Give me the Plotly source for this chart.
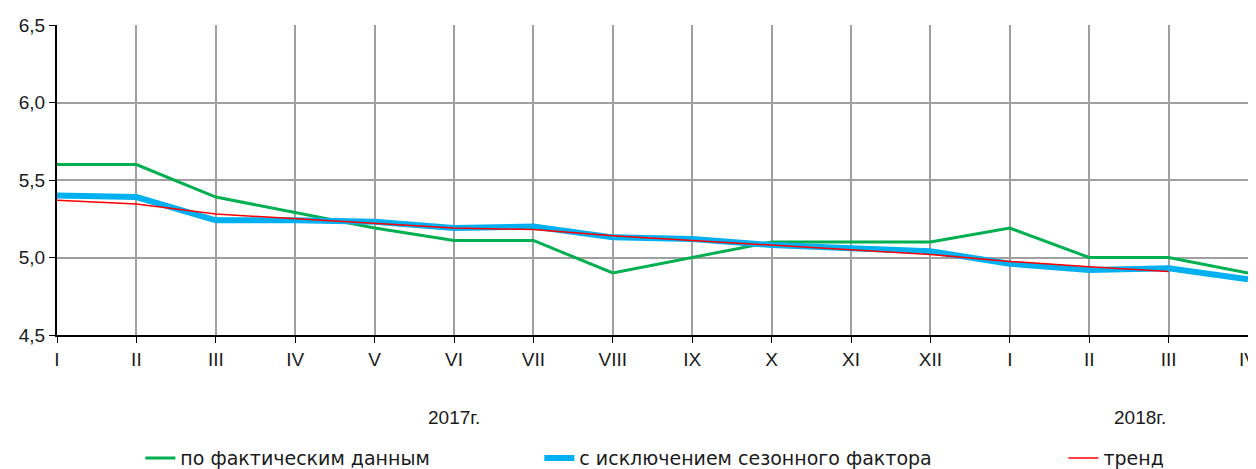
import plotly.graph_objects as go

months = ["I", "II", "III", "IV", "V", "VI", "VII", "VIII", "IX", "X", "XI", "XII", "I", "II", "III", "IV"]
actual = [5.6, 5.6, 5.39, 5.29, 5.19, 5.11, 5.11, 4.9, 5.0, 5.1, 5.1, 5.1, 5.19, 5.0, 5.0, 4.9]
seasonal = [5.40, 5.39, 5.24, 5.24, 5.23, 5.19, 5.20, 5.13, 5.12, 5.08, 5.06, 5.04, 4.96, 4.92, 4.93, 4.86]
trend = [5.37, 5.345, 5.28, 5.25, 5.22, 5.19, 5.18, 5.14, 5.11, 5.08, 5.05, 5.02, 4.975, 4.94, 4.91]
year_labels = ["2017г.", "2018г."]
year_pos = [5, 13.64]
names = ["по фактическим данным", "с исключением сезонного фактора", "тренд"]

xs = list(range(len(months)))
FONT = "Liberation Sans"
TXT = "#1a1a1a"

fig = go.Figure()
fig.add_trace(go.Scatter(x=xs, y=actual, mode="lines", name=names[0],
                         line=dict(color="#00B050", width=3), legend="legend"))
fig.add_trace(go.Scatter(x=xs, y=seasonal, mode="lines", name=names[1],
                         line=dict(color="#00B0F0", width=6), legend="legend2"))
fig.add_trace(go.Scatter(x=xs[:len(trend)], y=trend, mode="lines", name=names[2],
                         line=dict(color="#FF0000", width=1.5), legend="legend3"))

for lbl, xp in zip(year_labels, year_pos):
    fig.add_annotation(x=xp, xref="x", y=-0.265, yref="paper", yanchor="middle",
                       text=lbl, showarrow=False,
                       font=dict(family=FONT, size=19, color=TXT))

leg = dict(orientation="h", yanchor="middle", y=-0.397, xanchor="left",
           font=dict(family="DejaVu Sans", size=19, color=TXT), bgcolor="rgba(0,0,0,0)")
fig.update_layout(
    width=1248, height=461,
    margin=dict(l=49, r=8, t=17, b=134, autoexpand=False),
    plot_bgcolor="white", paper_bgcolor="white",
    separators=", ",
    showlegend=True,
    font=dict(family=FONT, size=19, color=TXT),
    legend=dict(leg, x=0.070),
    legend2=dict(leg, x=0.405),
    legend3=dict(leg, x=0.845),
    xaxis=dict(range=[0, 15], tickvals=xs, ticktext=months, showgrid=True,
               gridcolor="#A0A0A0", gridwidth=1.5, showline=True, linecolor="black",
               linewidth=2, ticks="outside", ticklen=6, tickcolor="black",
               tickfont=dict(family=FONT, size=19, color=TXT), zeroline=False,
               automargin=False, ticklabeloverflow="allow"),
    yaxis=dict(range=[4.5, 6.5], dtick=0.5, tickformat=".1f", showgrid=True,
               gridcolor="#A0A0A0", gridwidth=1.5, showline=True, linecolor="black",
               linewidth=2, ticks="outside", ticklen=6, tickcolor="black",
               tickfont=dict(family=FONT, size=19, color=TXT), zeroline=False,
               automargin=False),
)
fig.write_html("out.html")
